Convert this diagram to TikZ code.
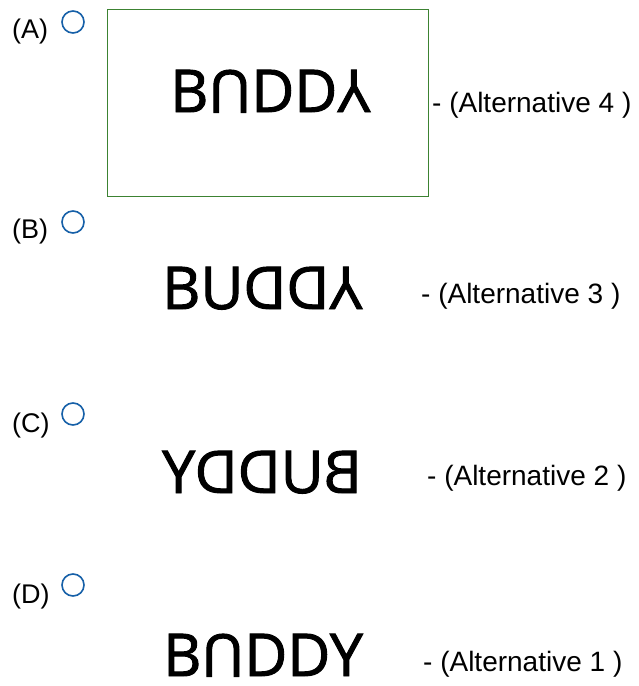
\documentclass[tikz,border=0pt]{standalone}
\usepackage{fontspec}
\usepackage{graphicx}
\setmainfont{Liberation Sans}
\newfontfamily\wordfont[FakeBold=1.6]{Open Sans}
\definecolor{radioblue}{RGB}{22,96,168}
\definecolor{boxgreen}{RGB}{60,130,50}
\tikzset{
  optlabel/.style={inner sep=0pt, anchor=base west, font=\fontsize{27}{30}\selectfont},
  alttext/.style={inner sep=0pt, anchor=base west, font=\fontsize{28}{32}\selectfont},
  word/.style={inner sep=0pt, anchor=base west, font=\wordfont\fontsize{59}{66}\selectfont},
  radio/.style={circle, draw=radioblue, line width=1.6pt, minimum size=22pt, inner sep=0pt},
  selbox/.style={draw=boxgreen, line width=1.2pt}
}
\newcommand{\flipU}{\rotatebox[origin=c]{180}{U}}
\newcommand{\flipY}{\rotatebox[origin=c]{180}{Y}}
\newcommand{\mirD}{\reflectbox{D}}
\begin{document}
\begin{tikzpicture}[x=1pt,y=1pt]
\useasboundingbox[fill=white] (0,0) rectangle (638,-686);
% option A
\node[optlabel] (la) at (12,-38) {(A)};
\node[radio] (ra) at (73,-22) {};
\node[selbox, minimum width=321pt, minimum height=187pt, anchor=north west] (boxa) at (107,-9) {};
\node[word] (wa) at (170,-112) {B\flipU DD\flipY};
\node[alttext] (aa) at (432,-112) {- (Alternative 4 )};
% option B
\node[optlabel] (lb) at (12,-238) {(B)};
\node[radio] (rb) at (73,-222) {};
\node[word] (wb) at (162,-309) {BU\mirD\mirD\flipY};
\node[alttext] (ab) at (421,-303) {- (Alternative 3 )};
% option C
\node[optlabel] (lc) at (12,-432) {(C)};
\node[radio] (rc) at (73,-414) {};
\node[word] (wc) at (162,-493) {\reflectbox{BUDDY}};
\node[alttext] (ac) at (427,-485) {- (Alternative 2 )};
% option D
\node[optlabel] (ld) at (12,-603) {(D)};
\node[radio] (rd) at (73,-585) {};
\node[word] (wd) at (163,-676) {B\flipU DDY};
\node[alttext] (ad) at (423,-671) {- (Alternative 1 )};
\end{tikzpicture}
\end{document}
